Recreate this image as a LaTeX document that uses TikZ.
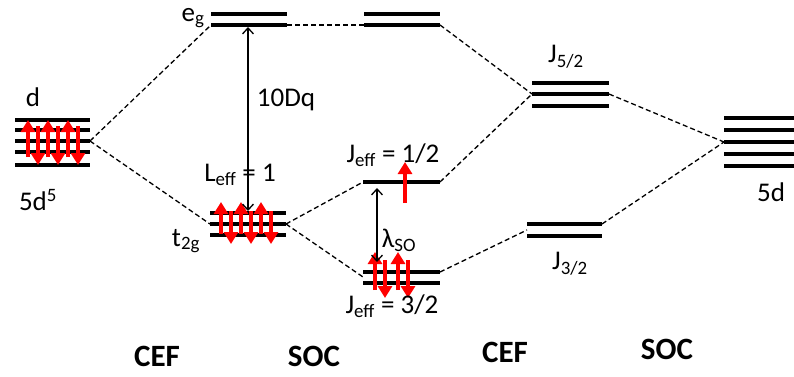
\documentclass[tikz,border=0pt]{standalone}
\usepackage{fontspec}
\setmainfont{Carlito}
\usetikzlibrary{arrows.meta}
\begin{document}
\begin{tikzpicture}[x=1pt,y=-1pt,
  level/.style={line width=3.6pt,black},
  conn/.style={dashed,line width=1.3pt,dash pattern=on 5pt off 3pt},
  spin/.style={red,line width=3.4pt,-{Triangle[width=14pt,length=12pt]}},
  gap/.style={line width=1.3pt,{Straight Barb[length=6pt,width=11pt]}-{Straight Barb[length=6pt,width=11pt]}},
  lab/.style={font=\fontsize{27}{30}\selectfont,inner sep=0pt},
  blab/.style={font=\fontsize{31}{34}\selectfont\bfseries,inner sep=0pt}]
\useasboundingbox (0,0) rectangle (794,376);
% ---- d (left)
\foreach \y in {120,130,141,152,165}{\draw[level] (15,\y) -- (90,\y);}
\coordinate (dR) at (90,141);
\foreach \x in {28,48,68}{
  \draw[spin] (\x,157) -- (\x,120);
  \draw[spin] (\x+10,126) -- (\x+10,165);}
\node[lab] (dlab) at (33,97) {d};
\node[lab] (d5) at (38,200) {5d\textsuperscript{5}};
% ---- e_g
\draw[level] (211,14) -- (287,14);
\draw[level] (211,25) -- (287,25);
\coordinate (egL) at (211,25); \coordinate (egR) at (287,25);
\node[lab] (eg) at (193,18) {e\textsubscript{g}};
% ---- t2g
\foreach \y in {213,224,235}{\draw[level] (210,\y) -- (286,\y);}
\coordinate (tL) at (210,224); \coordinate (tR) at (286,224);
\foreach \x in {221,241,261}{
  \draw[spin] (\x,234) -- (\x,202);
  \draw[spin] (\x+10,211) -- (\x+10,244);}
\node[lab] (t2g) at (186,241) {t\textsubscript{2g}};
\node[lab] (Leff) at (240,175) {L\textsubscript{eff} = 1};
% 10Dq
\coordinate (gapTop) at (248,27); \coordinate (gapBot) at (248,211);
\draw[gap] (gapTop) -- (gapBot);
\node[lab] (tenDq) at (286,100) {10Dq};
% ---- middle top (SOC column, e_g)
\draw[level] (364,14) -- (440,14);
\draw[level] (364,25) -- (440,25);
\coordinate (mL) at (364,25); \coordinate (mR) at (440,25);
% ---- J_eff = 1/2
\draw[level] (363,182) -- (440,182);
\coordinate (haL) at (363,182); \coordinate (haR) at (440,182);
\draw[spin] (405,203) -- (405,162);
\node[lab] (Jhalf) at (393,155) {J\textsubscript{eff} = 1/2};
% ---- J_eff = 3/2
\draw[level] (363,272) -- (440,272);
\draw[level] (363,283) -- (440,283);
\coordinate (tqL) at (363,277); \coordinate (tqR) at (440,272);
\foreach \x in {375,398}{
  \draw[spin] (\x,290) -- (\x,252);
  \draw[spin] (\x+10,260) -- (\x+10,298);}
\node[lab] (Jthree) at (392,306) {J\textsubscript{eff} = 3/2};
% lambda_SO
\coordinate (lTop) at (377,188); \coordinate (lBot) at (377,262);
\draw[gap] (lTop) -- (lBot);
\node[lab] (lso) at (399,240) {λ\textsubscript{SO}};
% ---- J5/2
\foreach \y in {83,94,106}{\draw[level] (532,\y) -- (609,\y);}
\coordinate (fL) at (532,94); \coordinate (fR) at (609,94);
\node[lab] (J52) at (566,57) {J\textsubscript{5/2}};
% ---- J3/2
\draw[level] (527,224) -- (602,224);
\draw[level] (527,236) -- (602,236);
\coordinate (thL) at (527,230); \coordinate (thR) at (602,224);
\node[lab] (J32) at (570,264) {J\textsubscript{3/2}};
% ---- 5d (right)
\foreach \y in {118,130,142,154,166}{\draw[level] (724,\y) -- (794,\y);}
\coordinate (rL) at (724,142);
\node[lab] (r5d) at (771,192) {5d};
% ---- connectors
\draw[conn] (dR) -- (egL);
\draw[conn] (dR) -- (tL);
\draw[conn] (egR) -- (mL);
\draw[conn] (mR) -- (fL);
\draw[conn] (tR) -- (haL);
\draw[conn] (tR) -- (tqL);
\draw[conn] (haR) -- (fL);
\draw[conn] (tqR) -- (thL);
\draw[conn] (fR) -- (rL);
\draw[conn] (thR) -- (rL);
% ---- bottom labels
\node[blab] (c1) at (157,356) {CEF};
\node[blab] (s1) at (314,356) {SOC};
\node[blab] (c2) at (505,352) {CEF};
\node[blab] (s2) at (667,349) {SOC};
\end{tikzpicture}
\end{document}
